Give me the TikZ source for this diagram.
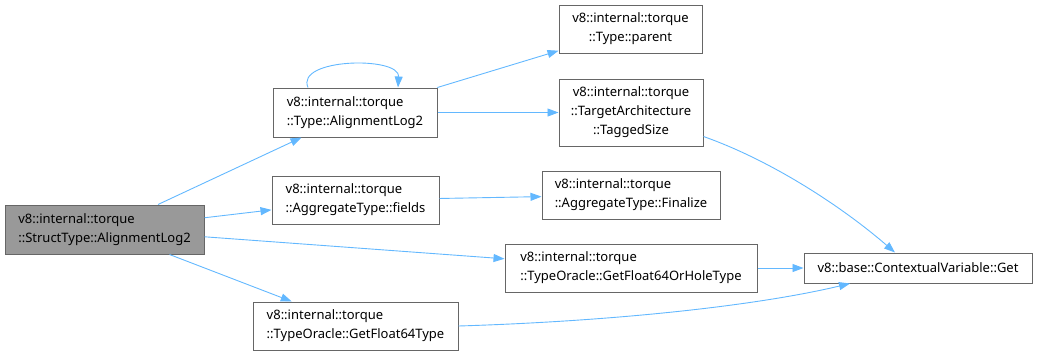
\documentclass[tikz,border=0pt]{standalone}
\usepackage{fontspec}
\setmainfont{Noto Sans}
\usetikzlibrary{arrows.meta}
\definecolor{edgeblue}{HTML}{63B8FF}
\definecolor{boxborder}{HTML}{666666}
\definecolor{focusfill}{HTML}{999999}
\begin{document}
\begin{tikzpicture}[x=1pt,y=-1pt,
  fn/.style={draw=boxborder,line width=1pt,fill=white,inner sep=0pt,
    font=\fontsize{13}{19}\selectfont,text=black},
  focus/.style={fn,fill=focusfill},
  call/.style={draw=edgeblue,line width=0.9pt,
    -{Triangle[length=11pt,width=8pt]}}]
\useasboundingbox (0,0) rectangle (1038,357);

% functions
\node[focus,align=left,minimum width=199pt,minimum height=49pt] (main) at (104.5,229.5)
  {v8::internal::torque\\::StructType::AlignmentLog2};
\node[fn,align=left,minimum width=164pt,minimum height=49pt] (al) at (355,112.5)
  {v8::internal::torque\\::Type::AlignmentLog2};
\node[fn,align=center,minimum width=143pt,minimum height=48pt] (parent) at (630.5,29)
  {v8::internal::torque\\::Type::parent};
\node[fn,align=center,minimum width=144pt,minimum height=67pt] (tagged) at (631,112.5)
  {v8::internal::torque\\::TargetArchitecture\\::TaggedSize};
\node[fn,align=left,minimum width=167pt,minimum height=48pt] (fields) at (355.5,200)
  {v8::internal::torque\\::AggregateType::fields};
\node[fn,align=left,minimum width=178pt,minimum height=48pt] (finalize) at (631,195)
  {v8::internal::torque\\::AggregateType::Finalize};
\node[fn,align=left,minimum width=252pt,minimum height=48pt] (hole) at (631,268)
  {v8::internal::torque\\::TypeOracle::GetFloat64OrHoleType};
\node[fn,align=left,minimum width=228pt,minimum height=30pt] (get) at (918,268)
  {v8::base::ContextualVariable::Get};
\node[fn,align=left,minimum width=205pt,minimum height=48pt] (f64) at (355.5,326)
  {v8::internal::torque\\::TypeOracle::GetFloat64Type};

% calls
\draw[call] (main) -- (al);
\draw[call] (main) -- (fields);
\draw[call] (main) -- (hole);
\draw[call] (main) -- (f64);
\draw[call] ([xshift=-47pt]al.north) .. controls (295,58) and (400,56) .. ([xshift=43pt]al.north);
\draw[call] (al) -- (parent);
\draw[call] (al) -- (tagged);
\draw[call] (fields) -- (finalize);
\draw[call] (hole) -- (get);
\draw[call] ([yshift=10pt]tagged.south east) .. controls (770,160) and (840,205) .. ([xshift=-23pt]get.north);
\draw[call] (f64.east) .. controls (620,321) and (760,305) .. ([xshift=-68pt]get.south);
\end{tikzpicture}
\end{document}
